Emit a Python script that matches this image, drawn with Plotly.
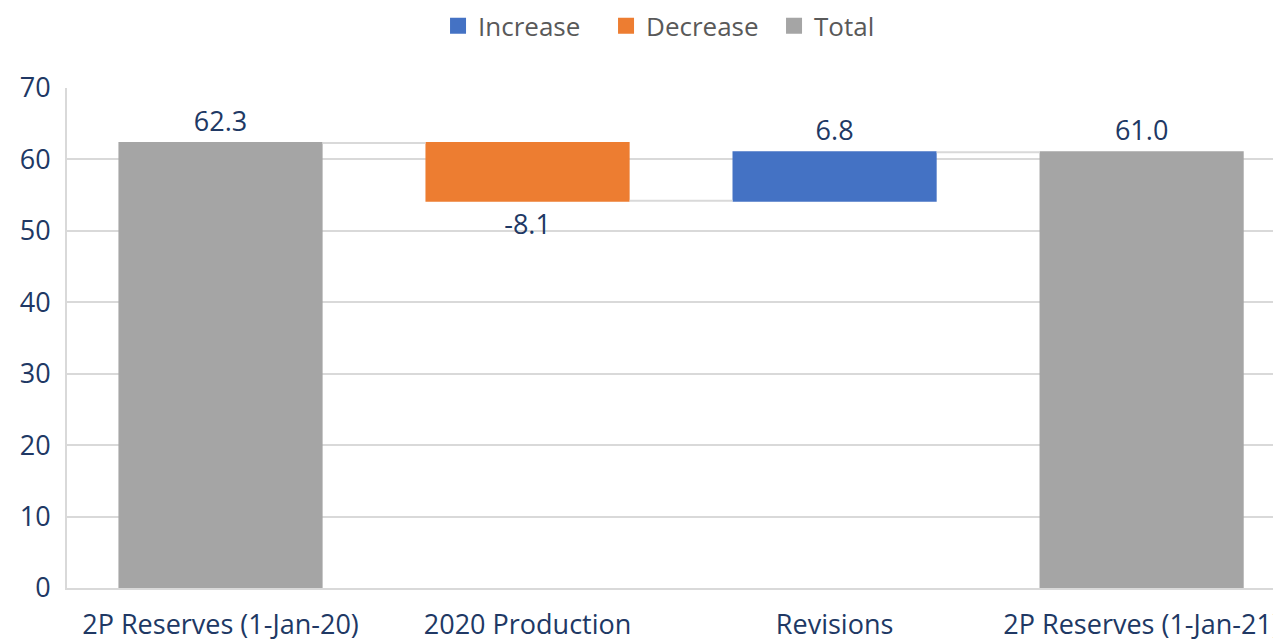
import plotly.graph_objects as go

categories = ["2P Reserves (1-Jan-20)", "2020 Production", "Revisions", "2P Reserves (1-Jan-21)"]
measures = ["absolute", "relative", "relative", "total"]
values = [62.3, -8.1, 6.8, 0]
legend_names = ["Increase", "Decrease", "Total"]
legend_colors = ["#4472C4", "#ED7D31", "#A5A5A5"]
y_ticks = [0, 10, 20, 30, 40, 50, 60, 70]

# label texts from data
running = 0
labels = []
for m, v in zip(measures, values):
    if m == "absolute":
        running = v
        labels.append(f"{v:.1f}")
    elif m == "relative":
        running += v
        labels.append(f"{v:.1f}")
    else:
        labels.append(f"{running:.1f}")

FONT = "Open Sans"
NAVY = "#203864"
GRID = "#d9d9d9"

fig = go.Figure()
fig.add_trace(go.Waterfall(
    x=categories, y=values, measure=measures,
    text=labels, textposition="outside",
    textfont=dict(family=FONT, size=27, color=NAVY),
    increasing=dict(marker=dict(color=legend_colors[0])),
    decreasing=dict(marker=dict(color=legend_colors[1])),
    totals=dict(marker=dict(color=legend_colors[2])),
    connector=dict(line=dict(color=GRID, width=2)),
    width=0.665,
    showlegend=False,
    cliponaxis=False,
))
for name, col in zip(legend_names, legend_colors):
    fig.add_trace(go.Scatter(
        x=[None], y=[None], mode="markers", name=name,
        marker=dict(symbol="square", size=18, color=col),
    ))

fig.update_layout(
    width=1281, height=640,
    margin=dict(l=59, r=0, t=80, b=60),
    paper_bgcolor="white", plot_bgcolor="white",
    font=dict(family=FONT, color=NAVY),
    legend=dict(orientation="h", x=0.3357, xref="container", xanchor="left",
                y=0.972, yref="container", yanchor="middle",
                font=dict(family=FONT, size=26, color="#595959"),
                itemwidth=30, tracegroupgap=0,
                entrywidth=123, entrywidthmode="pixels"),
)
fig.update_yaxes(range=[0, 70], tickvals=y_ticks, showgrid=True, gridcolor=GRID, gridwidth=2,
                 showline=True, linecolor=GRID, linewidth=2, zeroline=False,
                 tickfont=dict(family=FONT, size=27, color=NAVY), ticklabelstandoff=9)
fig.update_xaxes(range=[-0.5, 3.48], showline=True, linecolor=GRID, linewidth=2,
                 showgrid=False, tickfont=dict(family=FONT, size=27, color=NAVY),
                 ticklabelstandoff=12)

fig.write_html("out.html")
